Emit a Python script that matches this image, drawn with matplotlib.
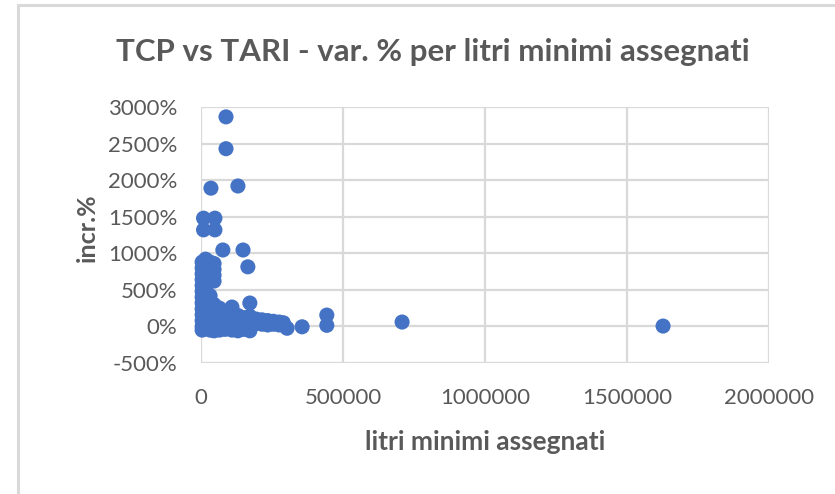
import matplotlib
matplotlib.use("Agg")
import matplotlib.pyplot as plt
from matplotlib.lines import Line2D
from matplotlib.ticker import FuncFormatter

# isolated high values
outlier_x = [88000, 88000, 35000, 130000, 9000, 49000, 9000, 49000,
             77000, 148000, 165000, 172000, 172000, 356000, 443000, 443000,
             708000, 1627000, 303000]
outlier_y = [2865, 2430, 1890, 1920, 1480, 1480, 1320, 1320,
             1045, 1045, 815, 320, 140, -5, 155, 15,
             60, 5, -25]

# dense cluster near the origin
cluster_x = [4000] * 13 + [16000] * 13 + [32000] * 11 + [46000] * 10 \
    + [65000] * 5 + [85000] * 4 + [109000] * 5 + [130000] * 4 + [150000] * 3 \
    + [172000] * 3 + [195000] * 2 + [215000] * 2 + [235000] * 2 \
    + [255000] * 2 + [275000] * 2 + [290000]
cluster_y = [880, 800, 720, 640, 560, 480, 400, 320, 240, 160, 80, 0, -50,
             920, 840, 760, 680, 600, 520, 440, 360, 280, 200, 120, 40, -30,
             880, 800, 720, 640, 420, 340, 260, 180, 100, 20, -50,
             860, 780, 700, 620, 300, 220, 140, 60, -20, -60,
             250, 170, 90, 10, -50,
             200, 120, 40, -40,
             265, 180, 100, 20, -50,
             150, 70, -10, -60,
             120, 40, -40,
             60, -20, -60,
             100, 40,
             90, 30,
             80, 20,
             70, 30,
             60, 20,
             50]

x_ticks = [0, 500000, 1000000, 1500000, 2000000]
y_ticks = [-500, 0, 500, 1000, 1500, 2000, 2500, 3000]

title = "TCP vs TARI - var. % per litri minimi assegnati"
x_title = "litri minimi assegnati"
y_title = "incr.%"

text_col = "#595959"
grid_col = "#d9d9d9"
dot_col = "#4472C4"
font = ["Lato", "DejaVu Sans"]

fig = plt.figure(figsize=(8.35, 4.94), dpi=100)

# chart frame (only left and top edges visible in the crop)
fig.add_artist(Line2D([17.5 / 835, 17.5 / 835], [0, 1 - 5 / 494],
                      color=grid_col, lw=2.2))
fig.add_artist(Line2D([17.5 / 835, 1], [1 - 5 / 494, 1 - 5 / 494],
                      color=grid_col, lw=2.2))

ax = fig.add_axes([201 / 835, 1 - 363 / 494, 568 / 835, 256 / 494])
ax.scatter(cluster_x + outlier_x, cluster_y + outlier_y, s=118,
           color=dot_col, edgecolors="none", zorder=3, clip_on=False)

ax.set_xlim(x_ticks[0], x_ticks[-1])
ax.set_ylim(y_ticks[0], y_ticks[-1])
ax.set_xticks(x_ticks)
ax.set_yticks(y_ticks)
ax.yaxis.set_major_formatter(FuncFormatter(lambda v, _: f"{v:.0f}%"))
ax.xaxis.set_major_formatter(FuncFormatter(lambda v, _: f"{v:.0f}"))
ax.grid(True, color=grid_col, lw=1.6)
ax.set_axisbelow(True)
for s in ax.spines.values():
    s.set_visible(False)
ax.tick_params(length=0, labelsize=16, labelcolor=text_col)
ax.tick_params(axis="x", pad=18)
ax.tick_params(axis="y", pad=17)
for lab in ax.get_xticklabels() + ax.get_yticklabels():
    lab.set_family(font)

ax.set_xlabel(x_title, fontsize=19, fontweight="bold", color=text_col,
              family=font)
ax.xaxis.set_label_coords(0.5, -0.26)
ax.set_ylabel(y_title, fontsize=18, fontweight="bold", color=text_col,
              family=font)
ax.yaxis.set_label_coords(-0.18, 0.53)

fig.text(433 / 835, 1 - 52 / 494, title, ha="center", va="center",
         fontsize=22.5, fontweight="bold", color=text_col, family=font)

fig.savefig("out.png", dpi=100)
